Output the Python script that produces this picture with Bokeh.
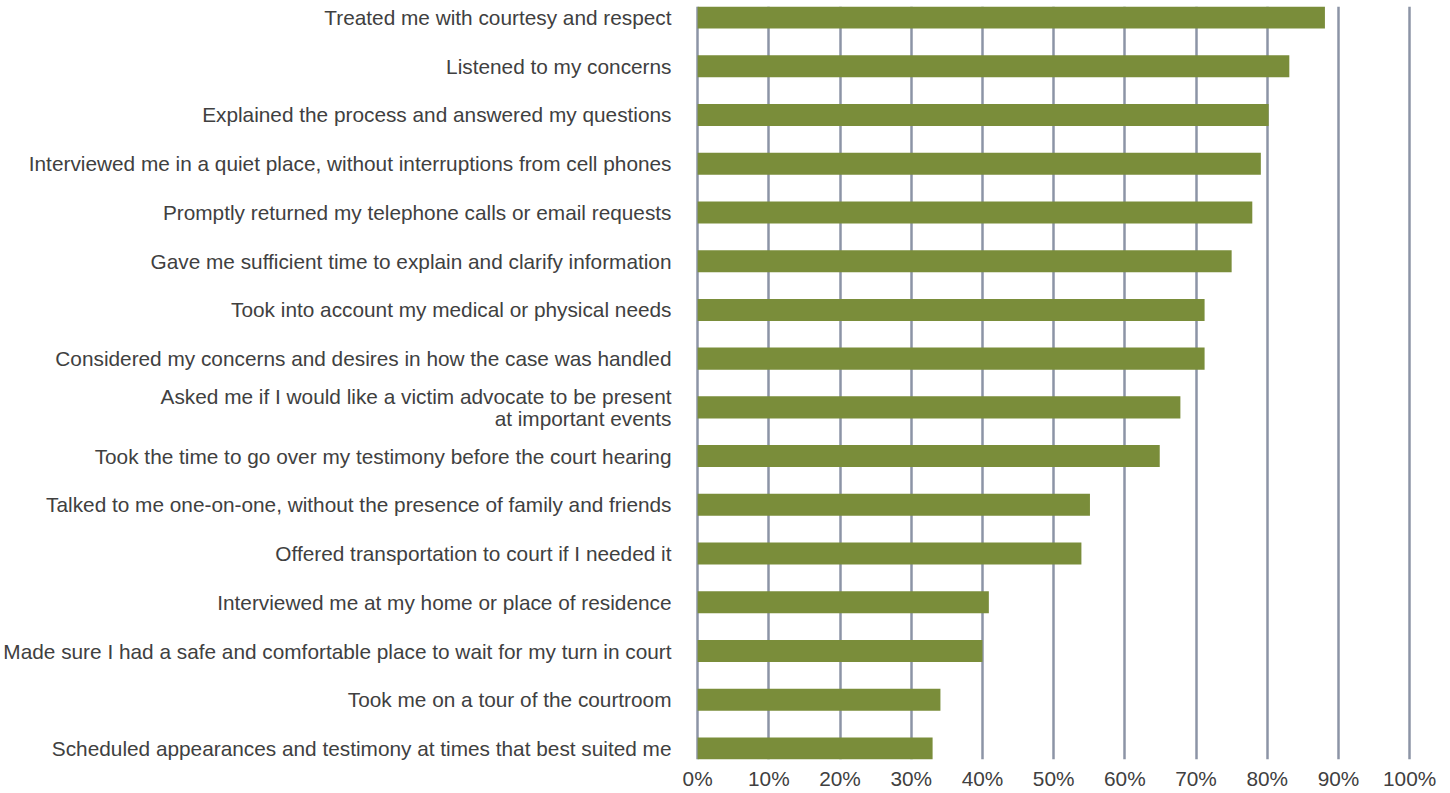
from bokeh.plotting import figure
from bokeh.models import Range1d, FixedTicker, NumeralTickFormatter, ColumnDataSource
from bokeh.embed import file_html
from bokeh.resources import INLINE

categories = [
    "Treated me with courtesy and respect",
    "Listened to my concerns",
    "Explained the process and answered my questions",
    "Interviewed me in a quiet place, without interruptions from cell phones",
    "Promptly returned my telephone calls or email requests",
    "Gave me sufficient time to explain and clarify information",
    "Took into account my medical or physical needs",
    "Considered my concerns and desires in how the case was handled",
    "Asked me if I would like a victim advocate to be present\nat important events",
    "Took the time to go over my testimony before the court hearing",
    "Talked to me one-on-one, without the presence of family and friends",
    "Offered transportation to court if I needed it",
    "Interviewed me at my home or place of residence",
    "Made sure I had a safe and comfortable place to wait for my turn in court",
    "Took me on a tour of the courtroom",
    "Scheduled appearances and testimony at times that best suited me",
]
values = [0.881, 0.831, 0.802, 0.791, 0.779, 0.750, 0.712, 0.712,
          0.678, 0.649, 0.551, 0.539, 0.409, 0.400, 0.341, 0.330]
x_ticks = [0.0, 0.1, 0.2, 0.3, 0.4, 0.5, 0.6, 0.7, 0.8, 0.9, 1.0]

n = len(categories)
idx = list(range(n))
src = ColumnDataSource(dict(y=idx, v=values, cat=categories))

FONT = "Liberation Sans"
TXT = "#404040"
GRID = "#8C94A6"
BAR = "#7A8D3A"
FS = "20.8px"

bh = 0.452
pad_l, pad_r = 0.003, 0.004
p = figure(
    frame_width=717, frame_height=753,
    min_border_left=694, min_border_right=31, min_border_top=6, min_border_bottom=0,
    x_range=Range1d(-pad_l, 1 + pad_r),
    y_range=Range1d(n - 1 + bh / 2, -bh / 2),
    output_backend="svg", toolbar_location=None,
)
p.hbar(y="y", right="v", left=0, height=bh, source=src, color=BAR, line_color=None)

p.outline_line_color = None
p.background_fill_color = "white"
p.border_fill_color = "white"

p.xaxis.ticker = FixedTicker(ticks=x_ticks)
p.xaxis.formatter = NumeralTickFormatter(format="0%")
p.xaxis.axis_line_color = None
p.xaxis.major_tick_line_color = None
p.xaxis.minor_tick_line_color = None
p.xaxis.major_tick_out = 0
p.xaxis.major_label_standoff = 7
p.xaxis.major_label_text_font = FONT
p.xaxis.major_label_text_font_size = FS
p.xaxis.major_label_text_color = TXT
p.xaxis.major_label_text_line_height = 1.0

p.yaxis.ticker = FixedTicker(ticks=idx)
p.yaxis.major_label_overrides = {i: c for i, c in zip(idx, categories)}
p.yaxis.axis_line_color = None
p.yaxis.major_tick_line_color = None
p.yaxis.minor_tick_line_color = None
p.yaxis.major_tick_out = 0
p.yaxis.major_label_standoff = 24
p.yaxis.major_label_text_font = FONT
p.yaxis.major_label_text_font_size = FS
p.yaxis.major_label_text_color = TXT
p.yaxis.major_label_text_align = "right"
p.yaxis.major_label_text_line_height = 0.95

p.ygrid.grid_line_color = None
p.xgrid.ticker = FixedTicker(ticks=x_ticks)
p.xgrid.grid_line_color = GRID
p.xgrid.grid_line_width = 2.5

open("out.html", "w").write(file_html(p, INLINE))
